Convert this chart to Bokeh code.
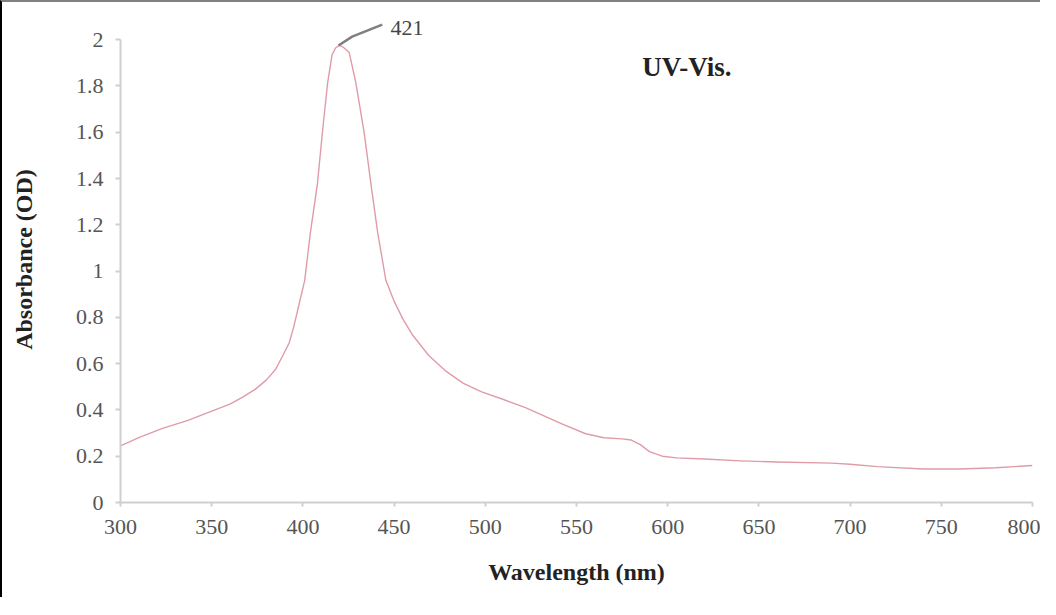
from bokeh.plotting import figure
from bokeh.models import FixedTicker, Range1d
from bokeh.core.properties import value
from bokeh.embed import file_html
from bokeh.resources import INLINE

# Spectrum
wavelength = [300, 310, 323, 337, 350, 360, 367, 374, 380, 385, 389, 392.5, 395, 398,
              401, 404, 408, 410.7, 413.5, 416, 418, 420, 422, 425.4, 429, 433.6, 437.2,
              441, 445.5, 450, 455, 460, 469, 478, 488, 498, 510, 522, 542, 555, 565,
              575, 580, 585, 590, 597, 605, 620, 640, 660, 690, 700, 715, 740, 760, 780, 800]
absorbance = [0.245, 0.28, 0.32, 0.355, 0.395, 0.425, 0.455, 0.49, 0.53, 0.575, 0.635, 0.69, 0.76, 0.86,
              0.96, 1.16, 1.38, 1.60, 1.81, 1.935, 1.965, 1.975, 1.968, 1.944, 1.814, 1.598, 1.382,
              1.166, 0.96, 0.87, 0.79, 0.725, 0.635, 0.57, 0.515, 0.478, 0.445, 0.41, 0.34, 0.297, 0.28,
              0.275, 0.27, 0.25, 0.22, 0.2, 0.193, 0.188, 0.18, 0.175, 0.17, 0.165, 0.155, 0.145, 0.145, 0.15, 0.16]

x_ticks = [300, 350, 400, 450, 500, 550, 600, 650, 700, 750, 800]
y_ticks = [0, 0.2, 0.4, 0.6, 0.8, 1, 1.2, 1.4, 1.6, 1.8, 2]
y_tick_labels = ["0", "0.2", "0.4", "0.6", "0.8", "1", "1.2", "1.4", "1.6", "1.8", "2"]

peak_label = ["421"]
peak_label_x = [448]
peak_label_y = [2.05]
leader_x = [419.5, 427, 438, 443.5]
leader_y = [1.975, 2.013, 2.048, 2.065]

title_text = ["UV-Vis."]
title_x = [586]
title_y = [1.883]

p = figure(width=1040, height=597, output_backend="svg", toolbar_location=None,
           x_range=Range1d(300, 800), y_range=Range1d(0, 2.1),
           min_border_left=118, min_border_right=10, min_border_top=14, min_border_bottom=97)
p.styles = {"border-top": "2px solid #808080", "border-left": "2px solid #000000"}

p.outline_line_color = None
p.xgrid.visible = False
p.ygrid.visible = False
p.background_fill_color = "white"
p.border_fill_color = "white"

serif = "Liberation Serif"

p.xaxis.ticker = FixedTicker(ticks=x_ticks)
p.yaxis.ticker = FixedTicker(ticks=y_ticks)
p.yaxis.major_label_overrides = {t: l for t, l in zip(y_ticks, y_tick_labels)}
p.xaxis.bounds = (300, 800)
p.yaxis.bounds = (0, 2)

for ax in (p.xaxis[0], p.yaxis[0]):
    ax.axis_line_color = "#cfcfcf"
    ax.axis_line_width = 2
    ax.major_tick_line_color = "#cfcfcf"
    ax.major_tick_line_width = 2
    ax.minor_tick_line_color = None
    ax.major_tick_in = 0
    ax.major_label_text_font = serif
    ax.major_label_text_font_size = "22px"
    ax.major_label_text_color = "#555555"
    ax.axis_label_text_font = serif
    ax.axis_label_text_font_style = "bold"
    ax.axis_label_text_font_size = "24px"
    ax.axis_label_text_color = "#222222"

p.xaxis.major_tick_out = 4
p.xaxis.major_label_standoff = 13
p.xaxis.axis_label = "Wavelength (nm)"
p.xaxis.axis_label_standoff = 22

p.yaxis.major_tick_out = 5
p.yaxis.major_label_standoff = 12
p.yaxis.axis_label = "Absorbance (OD)"
p.yaxis.axis_label_standoff = 36

p.line(wavelength, absorbance, line_color="#df9ca8", line_width=1.4, line_join="round")

p.line(leader_x, leader_y, line_color="#7f7f7f", line_width=2.5, line_join="round")
p.text(x=peak_label_x, y=peak_label_y, text=peak_label, text_font=value(serif),
       text_font_size="22px", text_color="#444444", text_baseline="middle", text_align="left")

p.text(x=title_x, y=title_y, text=title_text, text_font=value(serif),
       text_font_size="27px", text_font_style="bold", text_color="#222222",
       text_baseline="middle", text_align="left")

open("out.html", "w").write(file_html(p, INLINE))
